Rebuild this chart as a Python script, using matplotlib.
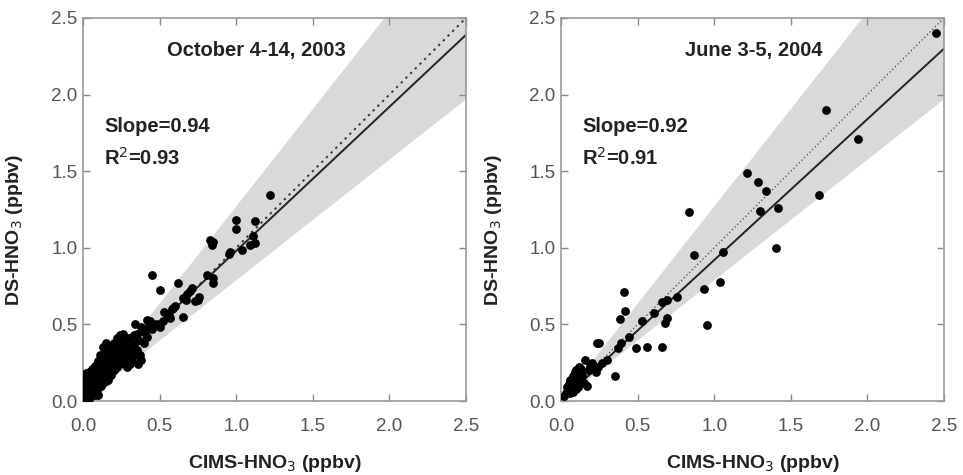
import matplotlib
matplotlib.use("Agg")
import matplotlib.pyplot as plt
import numpy as np

plt.rcParams['font.family'] = ['Liberation Sans', 'DejaVu Sans']

# ---------------- data ----------------
oct_x = [1.22, 1.12, 1.11, 1.12, 1.09, 1.00, 1.00, 1.04, 0.96, 0.83, 0.84, 0.85,
         0.81, 0.85, 0.85, 0.45, 0.50, 0.62, 0.71, 0.68, 0.65, 0.76, 0.73, 0.75,
         0.65, 0.60, 0.58, 0.55, 0.53, 0.42, 0.34, 0.45, 0.48, 0.50, 0.52, 0.40,
         0.38, 0.42, 0.36, 0.33, 0.35, 0.37, 0.38, 0.36, 0.32,
         0.01, 0.02, 0.01, 0.03, 0.02, 0.04, 0.05, 0.03, 0.05, 0.06, 0.04, 0.07,
         0.08, 0.06, 0.08, 0.09, 0.10, 0.10, 0.11, 0.12, 0.09, 0.11, 0.13, 0.14,
         0.12, 0.14, 0.15, 0.16, 0.15, 0.17, 0.18, 0.17, 0.19, 0.20, 0.19, 0.21,
         0.22, 0.21, 0.23, 0.24, 0.23, 0.25, 0.26, 0.25, 0.27, 0.28, 0.27, 0.29,
         0.30, 0.31, 0.29, 0.26, 0.28, 0.16, 0.13, 0.18, 0.20, 0.22, 0.24, 0.07,
         0.05, 0.03, 0.02, 0.01, 0.00, 0.06, 0.09, 0.12, 0.15, 0.11, 0.13, 0.14,
         0.16, 0.18, 0.20, 0.22, 0.24, 0.26, 0.19, 0.21, 0.17, 0.23, 0.08, 0.04,
         0.10, 0.02, 0.03, 0.05, 0.07, 0.09, 0.11, 0.13, 0.15, 0.30, 0.32, 0.34,
         0.28, 0.31, 0.33, 0.35, 0.44, 0.46, 0.56, 0.59, 0.67, 0.70, 0.95, 0.57,
         0.40, 0.43, 0.00, 0.01, 0.02, 0.04, 0.06, 0.08, 0.10, 0.12, 0.14, 0.16]
oct_y = [1.345, 1.175, 1.08, 1.03, 1.02, 1.18, 1.12, 0.985, 0.975, 1.05, 1.02, 1.04,
         0.82, 0.80, 0.77, 0.82, 0.725, 0.77, 0.735, 0.70, 0.67, 0.68, 0.65, 0.66,
         0.55, 0.62, 0.60, 0.57, 0.58, 0.53, 0.50, 0.47, 0.50, 0.48, 0.52, 0.45,
         0.48, 0.42, 0.40, 0.37, 0.33, 0.30, 0.27, 0.24, 0.26,
         0.00, 0.02, 0.05, 0.04, 0.08, 0.06, 0.03, 0.10, 0.09, 0.12, 0.13, 0.08,
         0.11, 0.15, 0.16, 0.13, 0.10, 0.17, 0.14, 0.20, 0.20, 0.22, 0.16, 0.18,
         0.25, 0.23, 0.20, 0.26, 0.29, 0.22, 0.28, 0.31, 0.25, 0.30, 0.34, 0.27,
         0.32, 0.37, 0.35, 0.40, 0.29, 0.33, 0.38, 0.42, 0.36, 0.40, 0.30, 0.33,
         0.28, 0.24, 0.22, 0.25, 0.26, 0.14, 0.12, 0.17, 0.20, 0.22, 0.24, 0.18,
         0.18, 0.15, 0.12, 0.09, 0.03, 0.05, 0.07, 0.10, 0.13, 0.27, 0.28, 0.31,
         0.33, 0.36, 0.38, 0.41, 0.43, 0.44, 0.21, 0.24, 0.19, 0.26, 0.04, 0.01,
         0.04, 0.00, 0.07, 0.14, 0.21, 0.24, 0.30, 0.35, 0.38, 0.41, 0.36, 0.30,
         0.35, 0.32, 0.43, 0.44, 0.52, 0.50, 0.56, 0.61, 0.66, 0.72, 0.96, 0.54,
         0.38, 0.49, 0.12, 0.17, 0.18, 0.19, 0.21, 0.23, 0.26, 0.28, 0.30, 0.33]

jun_x = [2.45, 1.73, 1.94, 1.215, 1.285, 1.335, 1.30, 1.415, 1.684, 1.406,
         0.835, 0.868, 1.059, 1.04, 0.933, 0.955, 0.76, 0.66, 0.69, 0.61, 0.694,
         0.677, 0.408, 0.417, 0.384, 0.53, 0.445, 0.39, 0.369, 0.488, 0.564,
         0.662, 0.245, 0.354, 0.30, 0.27, 0.24, 0.234, 0.21, 0.23, 0.156, 0.17,
         0.18, 0.19, 0.20, 0.10, 0.12, 0.13, 0.11, 0.09, 0.08, 0.07, 0.06, 0.05,
         0.04, 0.03, 0.02, 0.10, 0.12, 0.08, 0.14, 0.15, 0.06,
         0.05, 0.07, 0.09, 0.11, 0.08, 0.10, 0.06, 0.12, 0.04, 0.09, 0.13, 0.11]
jun_y = [2.40, 1.90, 1.71, 1.49, 1.43, 1.37, 1.24, 1.26, 1.345, 1.00,
         1.236, 0.953, 0.975, 0.78, 0.73, 0.496, 0.677, 0.648, 0.66, 0.572, 0.54,
         0.51, 0.714, 0.59, 0.533, 0.524, 0.416, 0.376, 0.344, 0.344, 0.355,
         0.35, 0.376, 0.165, 0.268, 0.246, 0.224, 0.38, 0.215, 0.19, 0.27, 0.10,
         0.20, 0.23, 0.25, 0.20, 0.18, 0.15, 0.13, 0.17, 0.12, 0.10, 0.14, 0.08,
         0.09, 0.05, 0.03, 0.08, 0.22, 0.06, 0.17, 0.12, 0.11,
         0.11, 0.07, 0.12, 0.09, 0.16, 0.14, 0.05, 0.16, 0.06, 0.19, 0.21, 0.20]

titles = ["October 4-14, 2003", "June 3-5, 2004"]
slope_texts = ["Slope=0.94", "Slope=0.92"]
r2_texts = ["R$^2$=0.93", "R$^2$=0.91"]
fit_slopes = [0.94, 0.92]
fit_intercepts = [0.04, 0.0]
band_factor = 1.27

ticks = [0.0, 0.5, 1.0, 1.5, 2.0, 2.5]
tick_labels = ["0.0", "0.5", "1.0", "1.5", "2.0", "2.5"]

fig = plt.figure(figsize=(9.63, 4.75), dpi=100)
W, H = 963.0, 475.0
lefts_px = [83, 561]
title_x = [1.13, 1.26]
dot_lw = [1.4, 0.8]
series = [(oct_x, oct_y), (jun_x, jun_y)]

for i in range(2):
    ax = fig.add_axes([lefts_px[i] / W, 74 / H, 383 / W, 383 / H])
    xs, ys = series[i]
    xx = np.linspace(0, 2.5, 200)
    ax.fill_between(xx, xx / band_factor, xx * band_factor, color='#d9d9d9', lw=0, zorder=0)
    ax.plot(xx, xx, color='#333333', ls=(0, (1.2, 2.2)), lw=dot_lw[i], zorder=1)
    ax.plot(xx, fit_slopes[i] * xx + fit_intercepts[i], color='#222222', lw=1.4, zorder=2)
    ax.scatter(xs, ys, s=40, color='black', lw=0, zorder=3)
    ax.set_xlim(0, 2.5)
    ax.set_ylim(0, 2.5)
    ax.set_xticks(ticks)
    ax.set_xticklabels(tick_labels)
    ax.set_yticks(ticks)
    ax.set_yticklabels(tick_labels)
    ax.tick_params(direction='in', top=True, right=True, length=5, width=1,
                   color='#888888', labelcolor='#555555', labelsize=13.5)
    ax.tick_params(axis='x', pad=12)
    ax.tick_params(axis='y', pad=4)
    for s in ax.spines.values():
        s.set_color('#999999')
        s.set_linewidth(1.2)
    ax.text(title_x[i], 2.29, titles[i], ha='center', va='center',
            fontsize=14.5, fontweight='bold', color='#222222')
    ax.text(0.14, 1.79, slope_texts[i], ha='left', va='center', fontsize=14.5,
            fontweight='bold', color='#222222')
    ax.text(0.14, 1.585, r2_texts[i], ha='left', va='center', fontsize=14.5,
            fontweight='bold', color='#222222')
    fig.text((lefts_px[i] + 191.5) / W, 1 - 463 / H, "CIMS-HNO$_3$ (ppbv)",
             ha='center', va='center', fontsize=14, fontweight='bold', color='#222222')
    fig.text((lefts_px[i] - 68) / W, 1 - 230 / H, "DS-HNO$_3$ (ppbv)",
             ha='center', va='center', rotation=90, fontsize=14, fontweight='bold',
             color='#222222')

fig.savefig("out.png", dpi=100)
